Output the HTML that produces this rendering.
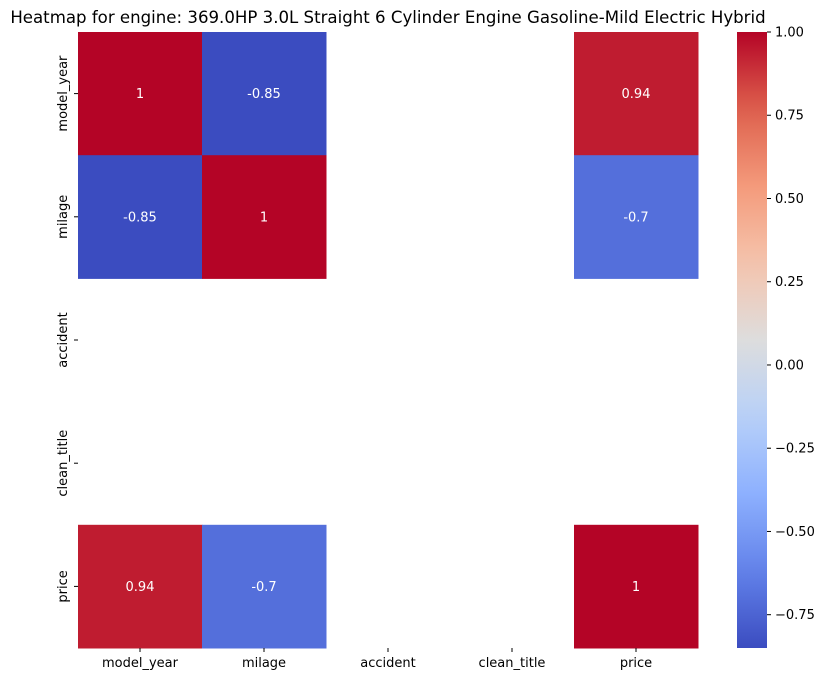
<!DOCTYPE html>
<html><head><meta charset="utf-8">
<style>
html,body{margin:0;padding:0;background:#fff;}
svg{display:block;font-family:"DejaVu Sans","Liberation Sans",sans-serif;}
</style></head>
<body>
<svg id="chart" width="829" height="682" viewBox="0 0 829 682" xmlns="http://www.w3.org/2000/svg">
<text x="388" y="23" text-anchor="middle" font-size="16.6" fill="#000">Heatmap for engine: 369.0HP 3.0L Straight 6 Cylinder Engine Gasoline-Mild Electric Hybrid</text>
<g id="cells"></g>
<g id="xlabels"></g>
<g id="ylabels"></g>
<defs><linearGradient id="cg" x1="0" y1="1" x2="0" y2="0"></linearGradient></defs>
<rect x="737" y="32" width="30" height="616" fill="url(#cg)"/>
<g id="cbticks"></g>
</svg>
<script>
const labels = ["model_year","milage","accident","clean_title","price"];
const values = [
  [1, -0.85, null, null, 0.94],
  [-0.85, 1, null, null, -0.7],
  [null, null, null, null, null],
  [null, null, null, null, null],
  [0.94, -0.7, null, null, 1]
];
const cbTicks = [1.00, 0.75, 0.50, 0.25, 0.00, -0.25, -0.50, -0.75];
const vmin = -0.85, vmax = 1.0;

const anchors = [[59,76,192],[98,130,234],[141,176,254],[184,208,249],[221,221,221],[245,196,173],[244,154,123],[222,96,77],[180,4,38]];
function cmap(t){
  t=Math.max(0,Math.min(1,t));
  const p=t*(anchors.length-1), i=Math.min(Math.floor(p),anchors.length-2), f=p-i;
  const c=anchors[i].map((v,k)=>Math.round(v+(anchors[i+1][k]-v)*f));
  return `rgb(${c[0]},${c[1]},${c[2]})`;
}
const NS="http://www.w3.org/2000/svg";
const x0=78,x1=698,y0=32,y1=648;
const cw=(x1-x0)/labels.length, ch=(y1-y0)/labels.length;
const xs=j=>x0+j*cw, ys=i=>y0+i*ch;
function mk(tag,attrs,parent){const e=document.createElementNS(NS,tag);for(const k in attrs)e.setAttribute(k,attrs[k]);parent.appendChild(e);return e;}
const cells=document.getElementById('cells');
values.forEach((row,i)=>row.forEach((v,j)=>{
  if(v===null) return;
  const r=mk('rect',{x:xs(j),y:ys(i),width:cw+0.5,height:ch+0.5,fill:cmap((v-vmin)/(vmax-vmin))},cells);
  
  
  const t=mk('text',{x:xs(j)+cw/2,y:ys(i)+ch/2+4.5,'text-anchor':'middle','font-size':'13',fill:'#fff'},cells);
  t.textContent=String(v);
  
  
}));
const xl=document.getElementById('xlabels'), yl=document.getElementById('ylabels');
labels.forEach((l,j)=>{
  const cx=xs(j)+cw/2;
  mk('line',{x1:cx,x2:cx,y1:y1,y2:y1+4,stroke:'#000'},xl);
  const t=mk('text',{x:cx,y:y1+19,'text-anchor':'middle','font-size':'13',fill:'#000'},xl);
  t.textContent=l;
  
  
  const cy=ys(j)+ch/2;
  mk('line',{x1:x0-4,x2:x0,y1:cy,y2:cy,stroke:'#000'},yl);
  const u=mk('text',{x:0,y:0,'text-anchor':'middle','font-size':'13',fill:'#000',transform:`translate(67,${cy}) rotate(-90)`},yl);
  u.textContent=l;
  
  
});
const g=document.getElementById('cg');
for(let k=0;k<=20;k++){mk('stop',{offset:k/20,'stop-color':cmap(k/20)},g);}
const cb=document.getElementById('cbticks');
cbTicks.forEach(v=>{
  const y=y1-(v-vmin)/(vmax-vmin)*(y1-y0);
  mk('line',{x1:767,x2:771,y1:y,y2:y,stroke:'#000'},cb);
  const t=mk('text',{x:775,y:y+4.5,'font-size':'13',fill:'#000'},cb);
  t.textContent=v.toFixed(2).replace('-','\u2212');
  
  
});
</script>
</body></html>
